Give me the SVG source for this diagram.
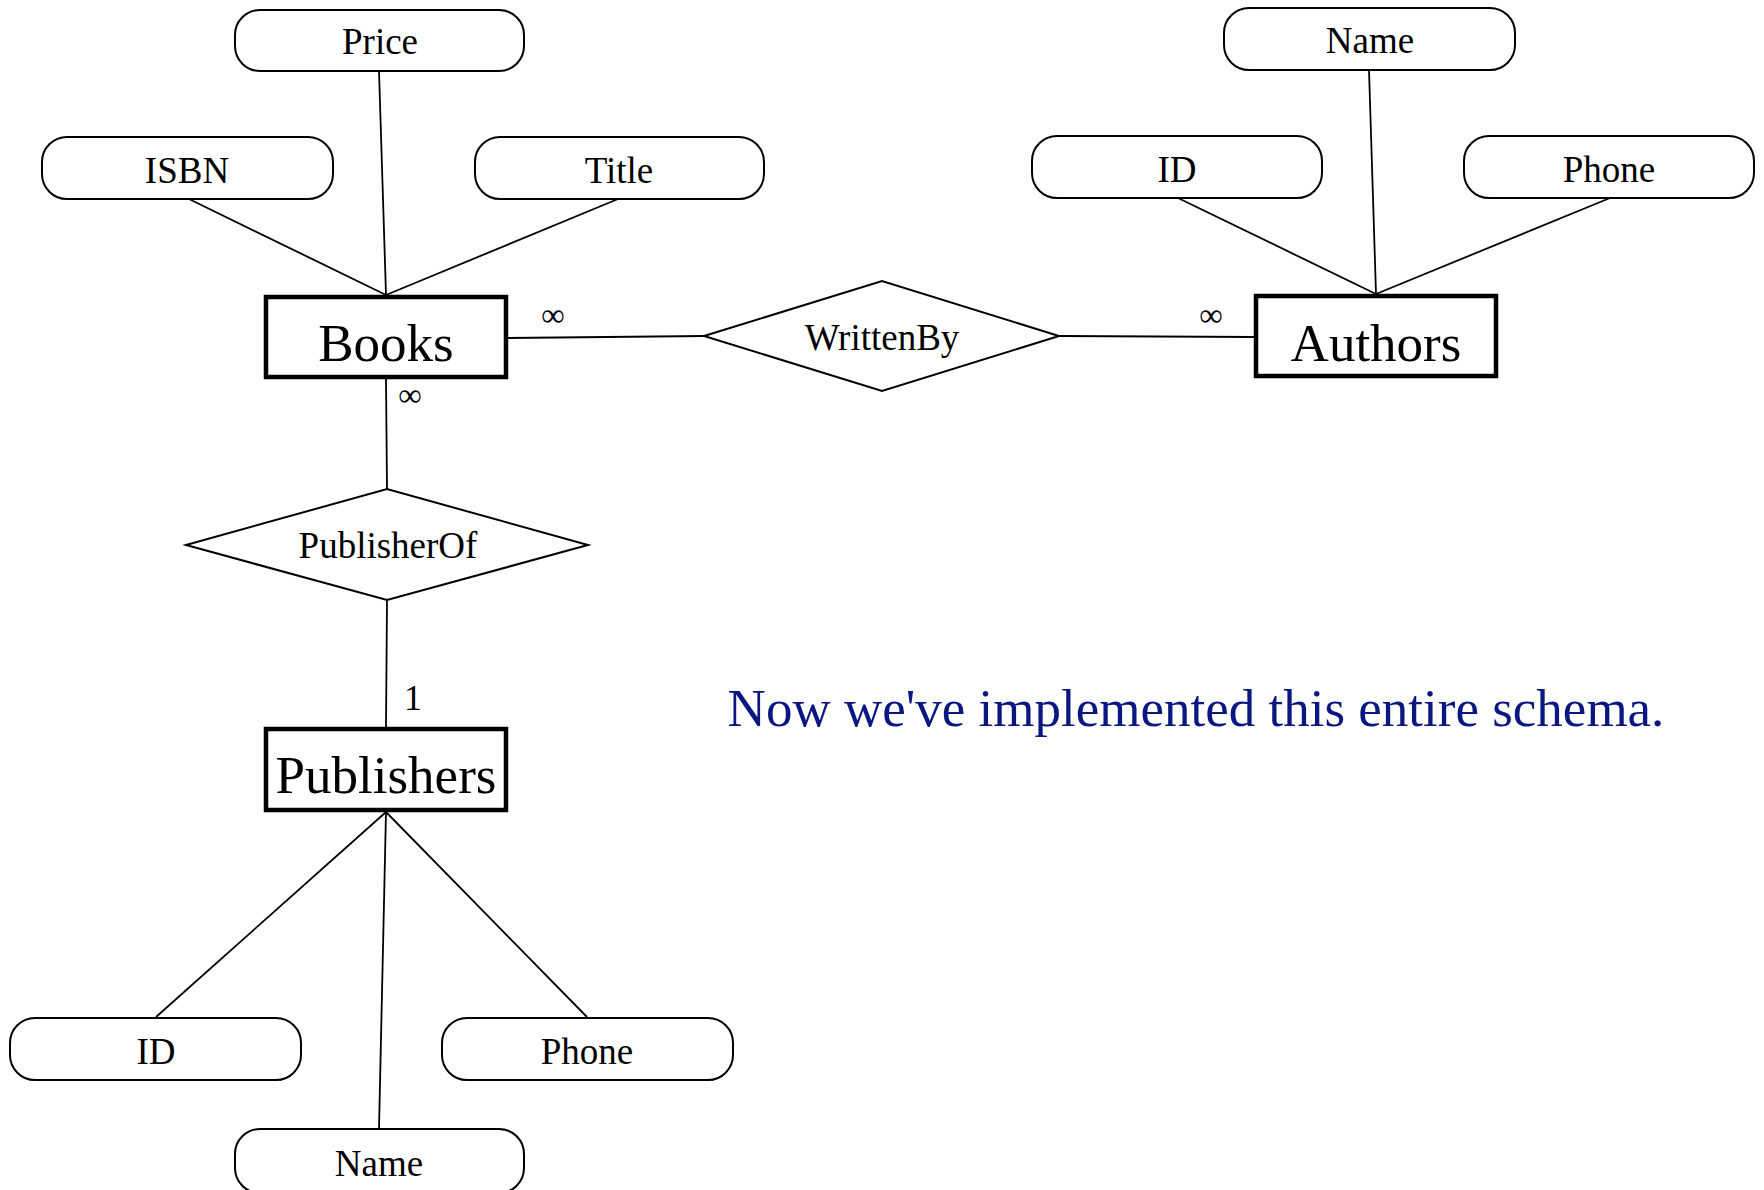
<svg xmlns="http://www.w3.org/2000/svg" width="1764" height="1190" viewBox="0 0 1764 1190">
<style>
.attr rect{fill:#fff;stroke:#000;stroke-width:2}
.ent rect{fill:#fff;stroke:#000;stroke-width:4.5}
.rel polygon{fill:#fff;stroke:#000;stroke-width:2}
text{font-family:"Liberation Serif","Times New Roman",serif;fill:#000;text-anchor:middle}
.at{font-size:37px}
.et{font-size:53px}
.card{font-size:33px}
.one{font-size:36px}
#connectors line{stroke:#000;stroke-width:1.8}
</style>
<rect width="1764" height="1190" fill="#fff"/>
<g id="connectors">
<line x1="379" y1="71" x2="386" y2="295"/>
<line x1="189" y1="199" x2="386" y2="295"/>
<line x1="618" y1="199" x2="386" y2="295"/>
<line x1="1369" y1="70" x2="1376" y2="294"/>
<line x1="1178" y1="198" x2="1376" y2="294"/>
<line x1="1610" y1="198" x2="1376" y2="294"/>
<line x1="508" y1="338" x2="704" y2="336"/>
<line x1="1059" y1="336" x2="1254" y2="337"/>
<line x1="386" y1="379" x2="387" y2="489"/>
<line x1="387" y1="600" x2="386" y2="727"/>
<line x1="386" y1="812" x2="156" y2="1017"/>
<line x1="386" y1="812" x2="587" y2="1017"/>
<line x1="386" y1="812" x2="379" y2="1129"/>
<text class="card" x="553" y="326">∞</text>
<text class="card" x="1211" y="326">∞</text>
<text class="card" x="410" y="406">∞</text>
<text class="one" x="413" y="710">1</text>
</g>
<g id="books-price" class="attr"><rect x="235" y="10" width="289" height="61" rx="25"/><text class="at" x="380" y="54">Price</text></g>
<g id="books-isbn" class="attr"><rect x="42" y="137" width="291" height="62" rx="25"/><text class="at" x="187" y="183">ISBN</text></g>
<g id="books-title" class="attr"><rect x="475" y="137" width="289" height="62" rx="25"/><text class="at" x="619" y="183">Title</text></g>
<g id="authors-name" class="attr"><rect x="1224" y="8" width="291" height="62" rx="25"/><text class="at" x="1370" y="53">Name</text></g>
<g id="authors-id" class="attr"><rect x="1032" y="136" width="290" height="62" rx="25"/><text class="at" x="1177" y="182">ID</text></g>
<g id="authors-phone" class="attr"><rect x="1464" y="136" width="290" height="62" rx="25"/><text class="at" x="1609" y="182">Phone</text></g>
<g id="publishers-id" class="attr"><rect x="10" y="1018" width="291" height="62" rx="25"/><text class="at" x="156" y="1064">ID</text></g>
<g id="publishers-phone" class="attr"><rect x="442" y="1018" width="291" height="62" rx="25"/><text class="at" x="587" y="1064">Phone</text></g>
<g id="publishers-name" class="attr"><rect x="235" y="1129" width="289" height="64" rx="25"/><text class="at" x="379" y="1176">Name</text></g>
<g id="books" class="ent"><rect x="266" y="297" width="240" height="80"/><text class="et" x="386" y="361">Books</text></g>
<g id="authors" class="ent"><rect x="1256" y="296" width="240" height="80"/><text class="et" x="1376" y="361">Authors</text></g>
<g id="publishers" class="ent"><rect x="266" y="729" width="240" height="81"/><text class="et" x="386" y="793">Publishers</text></g>
<g id="writtenby" class="rel"><polygon points="704,336 882,281 1059,336 882,391"/><text class="at" x="882" y="350">WrittenBy</text></g>
<g id="publisherof" class="rel"><polygon points="186,545 387,489 588,545 387,600"/><text class="at" x="388" y="558">PublisherOf</text></g>
<text x="1196" y="726" style="font-size:53px;fill:#0b1780">Now we've implemented this entire schema.</text>
</svg>
